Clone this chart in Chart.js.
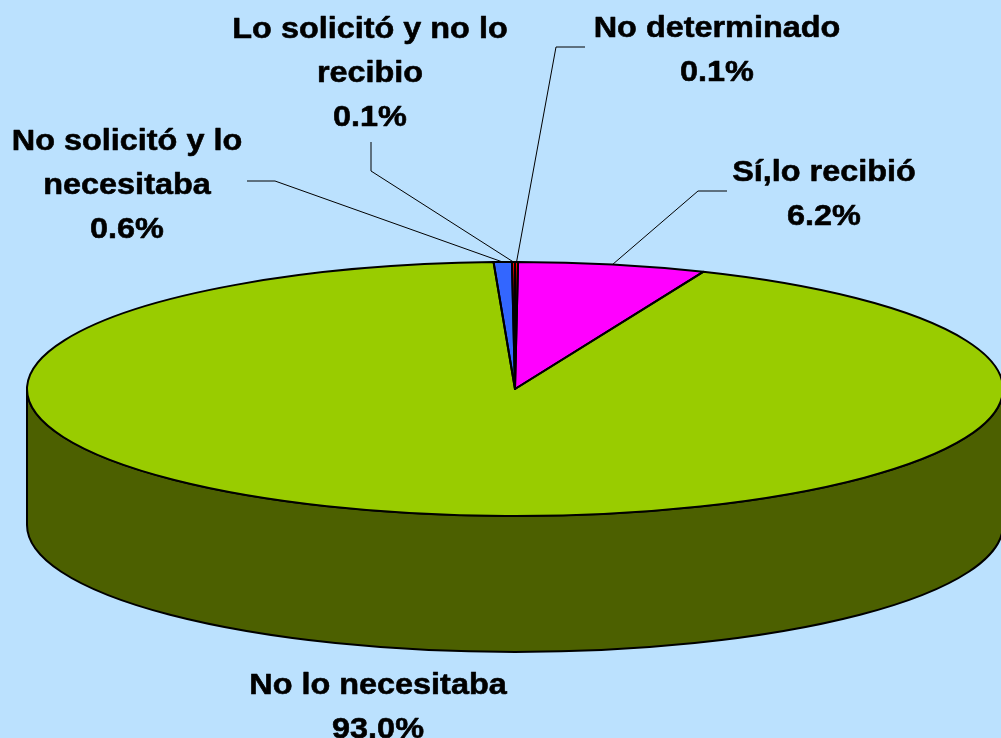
<!DOCTYPE html>
<html>
<head>
<meta charset="utf-8">
<script src="https://cdn.jsdelivr.net/npm/chart.js@4.4.0/dist/chart.umd.min.js"></script>
<style>
  html, body { margin: 0; padding: 0; background: #BBE1FE; }
  canvas { display: block; }
</style>
</head>
<body>
<canvas id="pie-chart" width="1001" height="738"></canvas>
<script>
// data (slice order clockwise from 12 o'clock)
const categories = ["No determinado", "Sí,lo recibió", "No lo necesitaba", "No solicitó y lo necesitaba", "Lo solicitó y no lo recibio"];
const percentages = [0.1, 6.2, 93.0, 0.6, 0.1];
const labelLines = [["No determinado"], ["Sí,lo recibió"], ["No lo necesitaba"], ["No solicitó y lo", "necesitaba"], ["Lo solicitó y no lo", "recibio"]];

// styles
const topColors = ["#FF0000", "#FF00FF", "#99CC00", "#3366FF", "#FF0000"];
const wallColors = ["#800000", "#800080", "#4C6000", "#1A3380", "#800000"];

// ellipse the pie is projected onto
const CX = 515, CY = 389, RX = 488, RY = 127, DEPTH = 136;

// where the labels sit, and the elbow of their leader lines
const labelPlace = [
  { x: 717, y: 37, elbow: [[585, 47], [556, 47]] },
  { x: 824, y: 181, elbow: [[727, 191], [698, 191]] },
  { x: 378, y: 694, elbow: null },
  { x: 127, y: 150, elbow: [[247, 181], [275, 181]] },
  { x: 370, y: 38, elbow: [[371, 142], [371, 171]] }
];
const LINE_GAP = 44;

function ellipsePoint(angle) {
  return [CX + RX * Math.cos(angle), CY + RY * Math.sin(angle)];
}

const tiltedPie = {
  id: "tiltedPie",
  beforeDatasetsDraw(chart) {
    const ctx = chart.ctx;
    const arcs = chart.getDatasetMeta(0).data;

    // side wall - only the front half can be seen
    arcs.forEach((arc, i) => {
      const a1 = Math.max(arc.startAngle, 0);
      const a2 = Math.min(arc.endAngle, Math.PI);
      if (a2 <= a1) return;
      ctx.beginPath();
      ctx.ellipse(CX, CY, RX, RY, 0, a1, a2);
      ctx.ellipse(CX, CY + DEPTH, RX, RY, 0, a2, a1, true);
      ctx.closePath();
      ctx.fillStyle = wallColors[i];
      ctx.fill();
      ctx.lineWidth = 2;
      ctx.strokeStyle = "#000";
      ctx.stroke();
    });

    // squash the round pie onto the ellipse
    const a = arcs[0];
    ctx.save();
    ctx.translate(CX, CY);
    ctx.scale(RX / a.outerRadius, RY / a.outerRadius);
    ctx.translate(-a.x, -a.y);
  },
  afterDatasetsDraw(chart) {
    const ctx = chart.ctx;
    ctx.restore();
    const arcs = chart.getDatasetMeta(0).data;

    // slice outlines
    ctx.lineWidth = 2;
    ctx.strokeStyle = "#000";
    ctx.lineJoin = "round";
    arcs.forEach(arc => {
      ctx.beginPath();
      ctx.moveTo(CX, CY);
      ctx.ellipse(CX, CY, RX, RY, 0, arc.startAngle, arc.endAngle);
      ctx.closePath();
      ctx.stroke();
    });

    // leader lines
    ctx.lineWidth = 1;
    arcs.forEach((arc, i) => {
      const place = labelPlace[i];
      if (!place.elbow) return;
      const end = ellipsePoint((arc.startAngle + arc.endAngle) / 2);
      ctx.beginPath();
      ctx.moveTo(place.elbow[0][0], place.elbow[0][1]);
      ctx.lineTo(place.elbow[1][0], place.elbow[1][1]);
      ctx.lineTo(end[0], end[1]);
      ctx.stroke();
    });

    // labels
    ctx.fillStyle = "#000";
    ctx.strokeStyle = "#000";
    ctx.lineWidth = 0.6;
    ctx.font = 'bold 30px "Liberation Sans", Arial, sans-serif';
    ctx.textAlign = "center";
    ctx.textBaseline = "alphabetic";
    categories.forEach((cat, i) => {
      const lines = labelLines[i].concat([percentages[i].toFixed(1) + "%"]);
      lines.forEach((line, k) => {
        ctx.save();
        ctx.translate(labelPlace[i].x, labelPlace[i].y + k * LINE_GAP);
        ctx.scale(1.08, 1);
        ctx.fillText(line, 0, 0);
        ctx.strokeText(line, 0, 0);
        ctx.restore();
      });
    });
  }
};

new Chart(document.getElementById("pie-chart"), {
  type: "pie",
  data: {
    labels: categories,
    datasets: [{
      data: percentages,
      backgroundColor: topColors,
      borderWidth: 0,
      clip: false
    }]
  },
  options: {
    responsive: false,
    animation: false,
    devicePixelRatio: 1,
    events: [],
    layout: { padding: 0 },
    plugins: {
      legend: { display: false },
      tooltip: { enabled: false }
    }
  },
  plugins: [tiltedPie]
});
</script>
</body>
</html>
